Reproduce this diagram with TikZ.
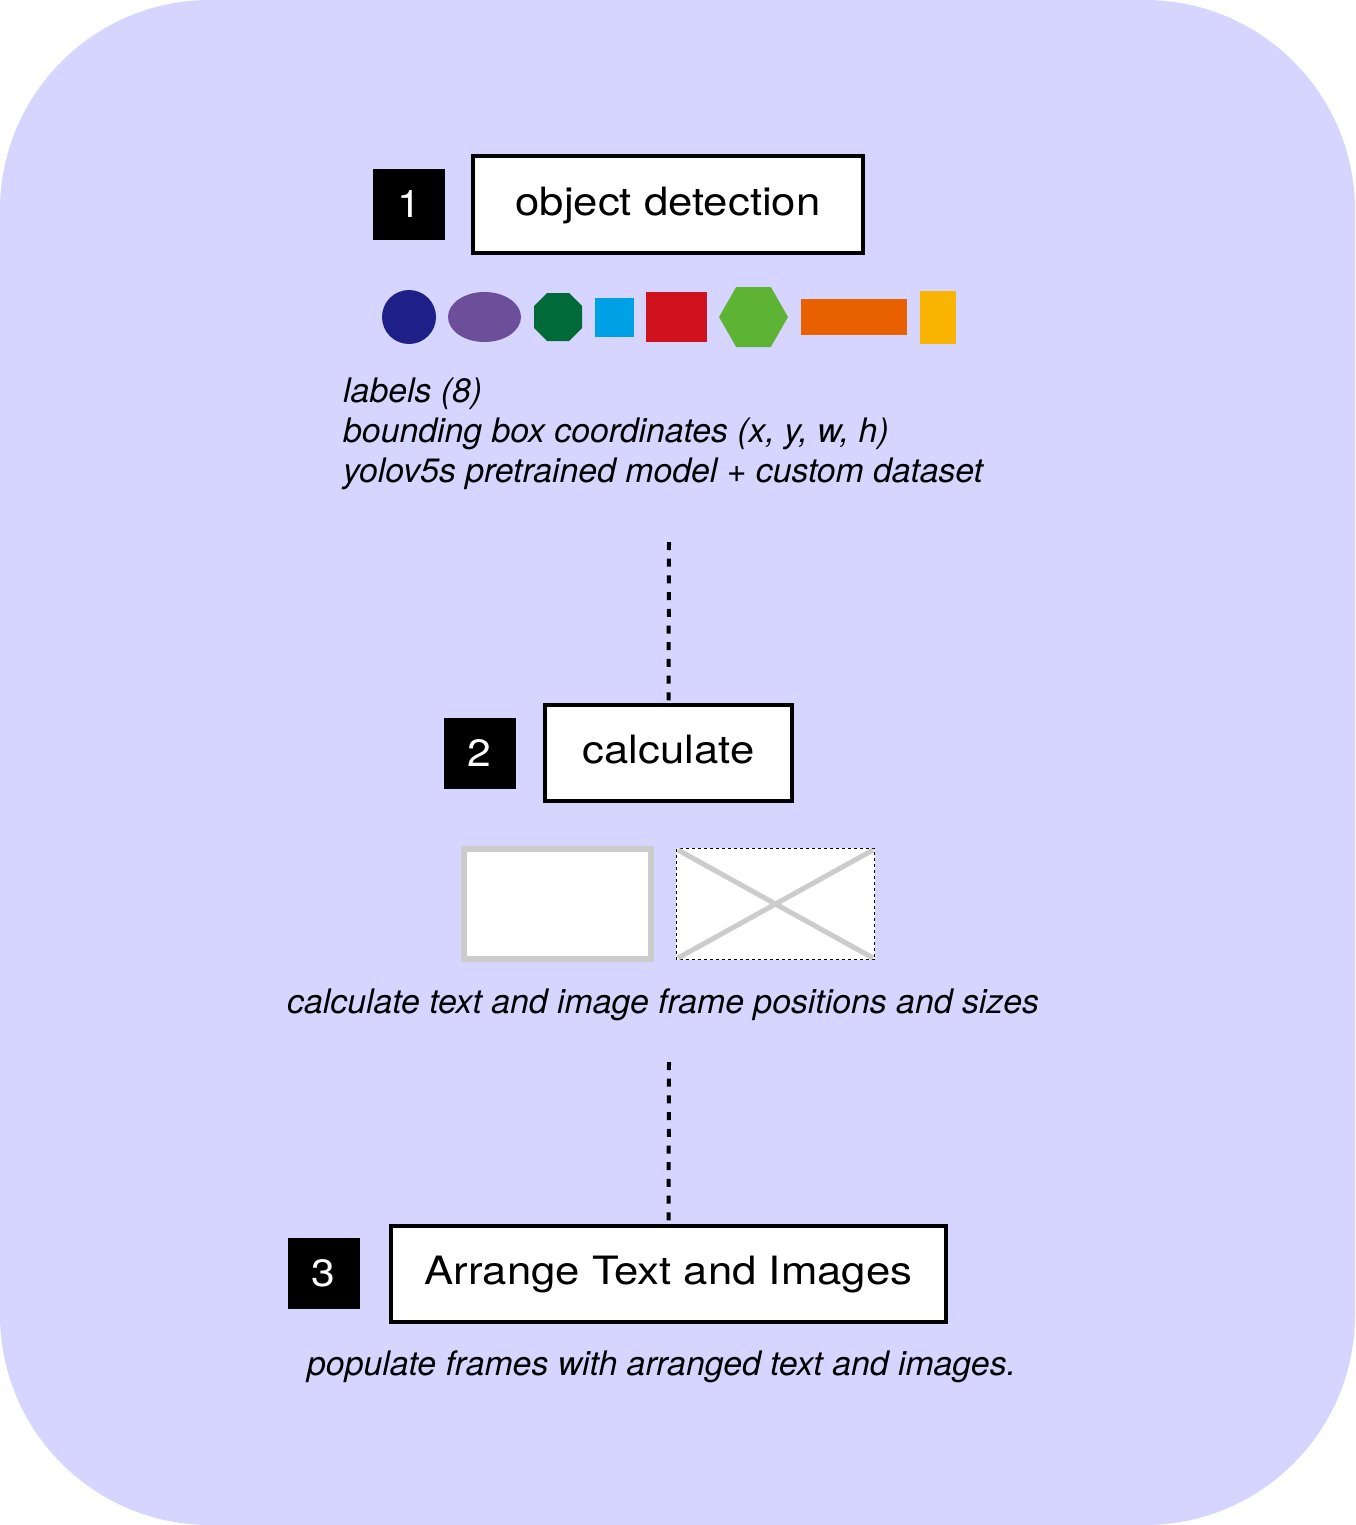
\documentclass[tikz,border=0pt]{standalone}
\usepackage{fontspec}
\setmainfont{TeX Gyre Heros}
\newfontfamily\boxfont[FakeStretch=1.12]{TeX Gyre Heros}
\definecolor{bgc}{RGB}{214,213,255}
\definecolor{navyc}{RGB}{30,32,135}
\definecolor{purplec}{RGB}{108,78,154}
\definecolor{dgreenc}{RGB}{0,106,56}
\definecolor{bluec}{RGB}{0,160,230}
\definecolor{redc}{RGB}{208,18,30}
\definecolor{lgreenc}{RGB}{92,179,52}
\definecolor{orangec}{RGB}{232,96,0}
\definecolor{yellowc}{RGB}{248,180,0}
\definecolor{framec}{RGB}{204,204,204}
\begin{document}
\begin{tikzpicture}[x=1pt,y=-1pt,
  stepbox/.style={draw=black, line width=4pt, fill=white, inner sep=0pt,
    text height=28pt, text depth=7pt,
    font=\boxfont\fontsize{39}{47}\selectfont},
  numbox/.style={fill=black, text=white, inner sep=0pt, minimum width=72pt,
    minimum height=71pt, text height=27pt, text depth=2pt,
    font=\boxfont\fontsize{38}{46}\selectfont},
  note/.style={anchor=base west, inner sep=0pt,
    font=\fontsize{33.8}{40}\selectfont\itshape},
  dotline/.style={line width=4pt, dash pattern=on 8pt off 8.7pt}]
\useasboundingbox (0,0) rectangle (1355,1525);
\fill[bgc, rounded corners=210pt] (0,0) rectangle (1355,1525);

% step 1
\node[numbox] (n1) at (409,204.5) {1};
\node[stepbox, minimum width=390pt, minimum height=97pt] (s1) at (668,204.5) {object detection};

% shapes
\fill[navyc] (409,317) ellipse [x radius=27pt, y radius=27pt];
\fill[purplec] (484.5,317) ellipse [x radius=36.5pt, y radius=25pt];
\fill[dgreenc] (547,293) -- (569,293) -- (582,306) -- (582,328) -- (569,341)
  -- (547,341) -- (534,328) -- (534,306) -- cycle;
\fill[bluec] (595,298) rectangle (634,337);
\fill[redc] (646,292) rectangle (707,342);
\fill[lgreenc] (719,317) -- (736.2,287) -- (770.8,287) -- (788,317)
  -- (770.8,347) -- (736.2,347) -- cycle;
\fill[orangec] (801,299) rectangle (907,335);
\fill[yellowc] (920,291) rectangle (955.5,344);

\node[note] (t1) at (343,402) {labels (8)};
\node[note] (t2) at (343,442) {bounding box coordinates (x, y, w, h)};
\node[note] (t3) at (343,482) {yolov5s pretrained model + custom dataset};

% step 2
\coordinate (d1) at (669,542);
\node[numbox] (n2) at (479.5,753.5) {2};
\node[stepbox, minimum width=247pt, minimum height=96pt] (s2) at (668.5,753) {calculate};
\draw[dotline] (d1) -- (s2.north);

% frames
\draw[framec, line width=6pt, fill=white] (464,849) rectangle (651,959);
\fill[white] (676,848) rectangle (875,960);
\draw[black, line width=1.5pt, dash pattern=on 3pt off 3pt] (676.5,848.5) rectangle (874.5,959.5);
\draw[framec, line width=5pt] (678,850) -- (873,958);
\draw[framec, line width=5pt] (678,958) -- (873,850);

\node[note] (t4) at (287,1013) {calculate text and image frame positions and sizes};

% step 3
\coordinate (d2) at (669,1062);
\node[numbox] (n3) at (323.5,1273.5) {3};
\node[stepbox, minimum width=555pt, minimum height=96pt] (s3) at (668.5,1274) {Arrange Text and Images};
\draw[dotline] (d2) -- (s3.north);

\node[note] (t5) at (307,1375) {populate frames with arranged text and images.};
\end{tikzpicture}
\end{document}
